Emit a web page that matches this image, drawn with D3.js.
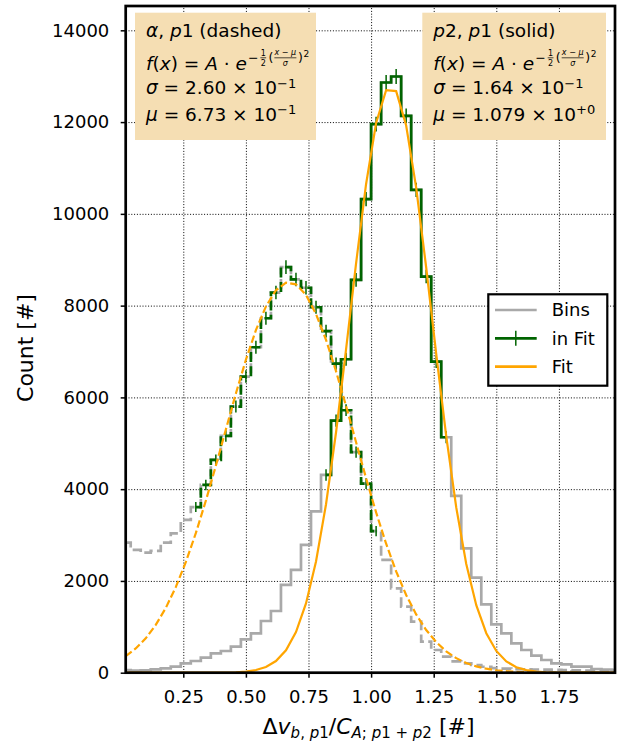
<!DOCTYPE html>
<html>
<head>
<meta charset="utf-8">
<script src="https://cdn.jsdelivr.net/npm/d3@7"></script>
<style>
  body { margin: 0; background: #fff; }
  svg text { font-family: "DejaVu Sans", sans-serif; white-space: pre; }
</style>
</head>
<body>
<div id="chart"></div>
<script>
// bin centres of the histogram (bin width 0.04)
const binCenters = [0.02, 0.06, 0.10, 0.14, 0.18, 0.22, 0.26, 0.30, 0.34, 0.38,
    0.42, 0.46, 0.50, 0.54, 0.58, 0.62, 0.66, 0.70, 0.74, 0.78,
    0.82, 0.86, 0.90, 0.94, 0.98, 1.02, 1.06, 1.10, 1.14, 1.18,
    1.22, 1.26, 1.30, 1.34, 1.38, 1.42, 1.46, 1.50, 1.54, 1.58,
    1.62, 1.66, 1.70, 1.74, 1.78, 1.82, 1.86, 1.90, 1.94, 1.98];

// alpha,p1 counts (dashed)
const alphaBins = [2835, 2675, 2617, 2653, 2835, 3038, 3329, 3610, 4092, 4637,
    5160, 5800, 6454, 7093, 7725, 8285, 8837, 8570, 8390, 7965,
    7445, 6737, 5720, 4808, 4120, 3085, 2457, 1839, 1440, 1113,
    676, 495, 350, 245, 205, 168, 130, 100, 90, 80,
    75, 70, 65, 60, 55, 50, 45, 45, 40, 40];

// p2,p1 counts (solid)
const p2Bins = [59, 44, 52, 73, 95, 131, 204, 255, 328, 422,
    473, 568, 727, 858, 1127, 1345, 1912, 2239, 2784, 3515,
    4310, 5494, 6831, 8561, 10319, 11954, 12863, 12994, 12136, 10523,
    8634, 6780, 5131, 3852, 2711, 2072, 1490, 1054, 858, 640,
    495, 371, 277, 204, 182, 131, 131, 81, 70, 60];

// fitted curves at the bin centres
const alphaFit = [363, 528, 750, 1041, 1410, 1865, 2410, 3041, 3747, 4510,
    5301, 6084, 6820, 7466, 7983, 8335, 8499, 8464, 8232, 7819,
    7253, 6570, 5813, 5023, 4238, 3493, 2811, 2209, 1695, 1271,
    931, 666, 465, 317, 211, 137, 87, 54, 33, 19,
    11, 6, 3, 2, 1, 0, 0, 0, 0, 0];
const p2Fit = [0, 0, 0, 0, 0, 0, 0, 0, 0, 1,
    4, 10, 25, 58, 125, 254, 489, 885, 1509, 2425,
    3672, 5240, 7044, 8923, 10651, 11979, 12695, 12676, 11925, 10572,
    8831, 6951, 5155, 3602, 2371, 1471, 860, 474, 246, 120,
    55, 24, 10, 4, 1, 0, 0, 0, 0, 0];

// first / last bin index used in each fit, and the error bars there
const alphaFitBins = [7, 25];
const p2FitBins = [20, 32];
const alphaErr = [110, 115, 120, 125, 130, 135, 140, 143, 146, 150,
    148, 147, 143, 140, 135, 128, 122, 116, 110];
const p2Err = [125, 132, 140, 148, 155, 160, 163, 164, 160, 155, 148, 140, 132];

const xTicks = [0.25, 0.50, 0.75, 1.00, 1.25, 1.50, 1.75];
const yTicks = [0, 2000, 4000, 6000, 8000, 10000, 12000, 14000];

// text of the two parameter boxes
const fitNames = [["α", "p", "1", "dashed"], ["p", "2", "1", "solid"]];
const fitSigma = [["2.60", "−1"], ["1.64", "−1"]];
const fitMu = [["6.73", "−1"], ["1.079", "+0"]];
const legendLabels = ["Bins", "in Fit", "Fit"];

const GRAY = "#a9a9a9", GREEN = "#006400", ORANGE = "#ffa500";

const W = 618, H = 744;
const mLeft = 125.7, mTop = 6, mRight = 615, mBottom = 672.7;
const width = mRight - mLeft, height = mBottom - mTop;

const svg = d3.select("#chart").append("svg")
    .attr("width", W).attr("height", H);

const g = svg.append("g").attr("transform", `translate(${mLeft},${mTop})`);

const x = d3.scaleLinear().domain([0.02, 1.974]).range([0, width]);
const y = d3.scaleLinear().domain([0, 14530]).range([height, 0]);

// grid
g.append("g")
    .attr("transform", `translate(0,${height})`)
    .call(d3.axisBottom(x).tickValues(xTicks).tickSize(-height).tickFormat(""))
    .call(a => a.select(".domain").remove())
    .selectAll("line").attr("stroke", "#000").attr("stroke-width", 1).attr("stroke-dasharray", "1,1.8");
g.append("g")
    .call(d3.axisLeft(y).tickValues(yTicks).tickSize(-width).tickFormat(""))
    .call(a => a.select(".domain").remove())
    .selectAll("line").attr("stroke", "#000").attr("stroke-width", 1).attr("stroke-dasharray", "1,1.8");

g.append("clipPath").attr("id", "plotclip")
    .append("rect").attr("width", width).attr("height", height);
const plot = g.append("g").attr("clip-path", "url(#plotclip)");

const stepLine = d3.line()
    .x(d => x(d[0])).y(d => y(d[1]))
    .curve(d3.curveStep);
const fitLine = d3.line()
    .x(d => x(d[0])).y(d => y(d[1]));

const pairs = arr => arr.map((v, i) => [binCenters[i], v]);

// all bins
plot.append("path").datum(pairs(p2Bins))
    .attr("fill", "none").attr("stroke", GRAY).attr("stroke-width", 2.7)
    .attr("d", stepLine);
plot.append("path").datum(pairs(alphaBins))
    .attr("fill", "none").attr("stroke", GRAY).attr("stroke-width", 2.7)
    .attr("stroke-dasharray", "10,4.3")
    .attr("d", stepLine);

// bins used in the fit, with error bars
function fitBins(counts, range, errs, dash) {
    const sub = pairs(counts).slice(range[0], range[1] + 1);
    plot.append("path").datum(sub)
        .attr("fill", "none").attr("stroke", GREEN).attr("stroke-width", 2.7)
        .attr("stroke-dasharray", dash)
        .attr("d", stepLine);
    plot.selectAll(null).data(sub).enter().append("line")
        .attr("x1", d => x(d[0])).attr("x2", d => x(d[0]))
        .attr("y1", (d, i) => y(d[1] - errs[i]))
        .attr("y2", (d, i) => y(d[1] + errs[i]))
        .attr("stroke", GREEN).attr("stroke-width", 1.5);
}
fitBins(alphaBins, alphaFitBins, alphaErr, "10,4.3");
fitBins(p2Bins, p2FitBins, p2Err, null);

// fit curves
plot.append("path").datum(pairs(alphaFit))
    .attr("fill", "none").attr("stroke", ORANGE).attr("stroke-width", 2.2)
    .attr("stroke-dasharray", "7.5,3.2")
    .attr("d", fitLine);
plot.append("path").datum(pairs(p2Fit))
    .attr("fill", "none").attr("stroke", ORANGE).attr("stroke-width", 2.2)
    .attr("d", fitLine);

// axes
const xAxis = g.append("g")
    .attr("transform", `translate(0,${height})`)
    .call(d3.axisBottom(x).tickValues(xTicks).tickSize(5).tickPadding(12.2).tickFormat(d3.format(".2f")));
const yAxis = g.append("g")
    .call(d3.axisLeft(y).tickValues(yTicks).tickSize(5).tickPadding(11.4).tickFormat(d3.format("d")));
[xAxis, yAxis].forEach(a => {
    a.select(".domain").remove();
    a.selectAll("line").attr("stroke", "#000").attr("stroke-width", 1.5);
    a.selectAll("text").attr("font-size", 18).attr("fill", "#000")
        .style("font-family", "DejaVu Sans");
});

g.append("rect").attr("width", width).attr("height", height)
    .attr("fill", "none").attr("stroke", "#000").attr("stroke-width", 2.7);

// axis labels
svg.append("text")
    .attr("transform", `translate(33,348) rotate(-90)`)
    .attr("text-anchor", "middle").attr("font-size", 22)
    .text("Count [#]");

const xl = svg.append("text")
    .attr("x", 368.5).attr("y", 734)
    .attr("text-anchor", "middle").attr("font-size", 22);
xl.append("tspan").text("Δ");
xl.append("tspan").attr("font-style", "italic").text("v");
xl.append("tspan").attr("font-size", 15).attr("dy", 4).attr("font-style", "italic").text("b");
xl.append("tspan").attr("font-size", 15).text(", ");
xl.append("tspan").attr("font-size", 15).attr("font-style", "italic").text("p");
xl.append("tspan").attr("font-size", 15).text("1");
xl.append("tspan").attr("dy", -4).text("/");
xl.append("tspan").attr("font-style", "italic").text("C");
xl.append("tspan").attr("font-size", 15).attr("dy", 4).attr("font-style", "italic").text("A");
xl.append("tspan").attr("font-size", 15).text("; ");
xl.append("tspan").attr("font-size", 15).attr("font-style", "italic").text("p");
xl.append("tspan").attr("font-size", 15).text("1 + ");
xl.append("tspan").attr("font-size", 15).attr("font-style", "italic").text("p");
xl.append("tspan").attr("font-size", 15).text("2");
xl.append("tspan").attr("dy", -4).text(" [#]");

// parameter boxes
const boxX = [135, 422.3], boxW = [181, 183.7];
function small(parent, tx, ty, s, size, anchor) {
    return parent.append("text").attr("x", tx).attr("y", ty)
        .attr("font-size", size).attr("text-anchor", anchor || "start")
        .attr("font-style", "italic").text(s);
}
boxX.forEach((bx, k) => {
    const b = svg.append("g");
    b.append("rect").attr("x", bx).attr("y", 12.7).attr("width", boxW[k]).attr("height", 127.3)
        .attr("fill", "#f5deb3");
    const tx = bx + 11;

    const n = fitNames[k];
    const l1 = b.append("text").attr("x", tx).attr("y", 37.3).attr("font-size", 18.5);
    if (k === 0) {
        l1.append("tspan").attr("font-style", "italic").text(n[0]);
    } else {
        l1.append("tspan").attr("font-style", "italic").text(n[0]);
        l1.append("tspan").text(n[1]);
    }
    l1.append("tspan").text(", ");
    l1.append("tspan").attr("font-style", "italic").text("p");
    l1.append("tspan").text(n[2] + " (" + n[3] + ")");

    const l2 = b.append("text").attr("x", tx).attr("y", 69.5).attr("font-size", 18.5);
    l2.append("tspan").attr("font-style", "italic").text("f");
    l2.append("tspan").text("(");
    l2.append("tspan").attr("font-style", "italic").text("x");
    l2.append("tspan").text(") = ");
    l2.append("tspan").attr("font-style", "italic").text("A");
    l2.append("tspan").text(" · ");
    l2.append("tspan").attr("font-style", "italic").text("e");
    const ex = tx + l2.node().getComputedTextLength() + 1;
    b.append("text").attr("x", ex).attr("y", 61.5).attr("font-size", 12.5).text("−");
    b.append("text").attr("x", ex + 15.3).attr("y", 55.5).attr("font-size", 8).attr("text-anchor", "middle").text("1");
    b.append("line").attr("x1", ex + 12.5).attr("x2", ex + 18.3).attr("y1", 57.8).attr("y2", 57.8)
        .attr("stroke", "#000").attr("stroke-width", 0.7);
    b.append("text").attr("x", ex + 15.3).attr("y", 65.5).attr("font-size", 8).attr("text-anchor", "middle").text("2");
    b.append("text").attr("x", ex + 20.5).attr("y", 62).attr("font-size", 12.5).text("(");
    const fr = b.append("text").attr("x", ex + 37.5).attr("y", 55).attr("font-size", 8).attr("text-anchor", "middle");
    fr.append("tspan").attr("font-style", "italic").text("x");
    fr.append("tspan").text(" − ");
    fr.append("tspan").attr("font-style", "italic").text("μ");
    b.append("line").attr("x1", ex + 26.5).attr("x2", ex + 48.5).attr("y1", 57.8).attr("y2", 57.8)
        .attr("stroke", "#000").attr("stroke-width", 0.7);
    small(b, ex + 37.5, 65.5, "σ", 8, "middle");
    b.append("text").attr("x", ex + 50).attr("y", 62).attr("font-size", 12.5).text(")");
    b.append("text").attr("x", ex + 55.5).attr("y", 57).attr("font-size", 9).text("2");

    [[fitSigma[k], "σ", 94], [fitMu[k], "μ", 120.7]].forEach(([v, sym, by]) => {
        const t = b.append("text").attr("x", tx).attr("y", by).attr("font-size", 18.5);
        t.append("tspan").attr("font-style", "italic").text(sym);
        t.append("tspan").text(" = " + v[0] + " × 10");
        t.append("tspan").attr("dy", -6.5).attr("font-size", 13).text(v[1]);
    });
});

// legend
const lg = svg.append("g").attr("transform", "translate(488.3,294.3)");
lg.append("rect").attr("width", 119).attr("height", 91.4)
    .attr("fill", "#fff").attr("stroke", "#000").attr("stroke-width", 2.2);
const legendColors = [GRAY, GREEN, ORANGE];
legendLabels.forEach((lab, i) => {
    const ry = 15.7 + i * 28.3;
    lg.append("line").attr("x1", 6.7).attr("x2", 48.4).attr("y1", ry).attr("y2", ry)
        .attr("stroke", legendColors[i]).attr("stroke-width", 2.7);
    if (i === 1) {
        lg.append("line").attr("x1", 27.5).attr("x2", 27.5).attr("y1", ry - 7.5).attr("y2", ry + 7.5)
            .attr("stroke", GREEN).attr("stroke-width", 1.5);
    }
    lg.append("text").attr("x", 63.4).attr("y", ry + 6.5).attr("font-size", 18).text(lab);
});
</script>
</body>
</html>
